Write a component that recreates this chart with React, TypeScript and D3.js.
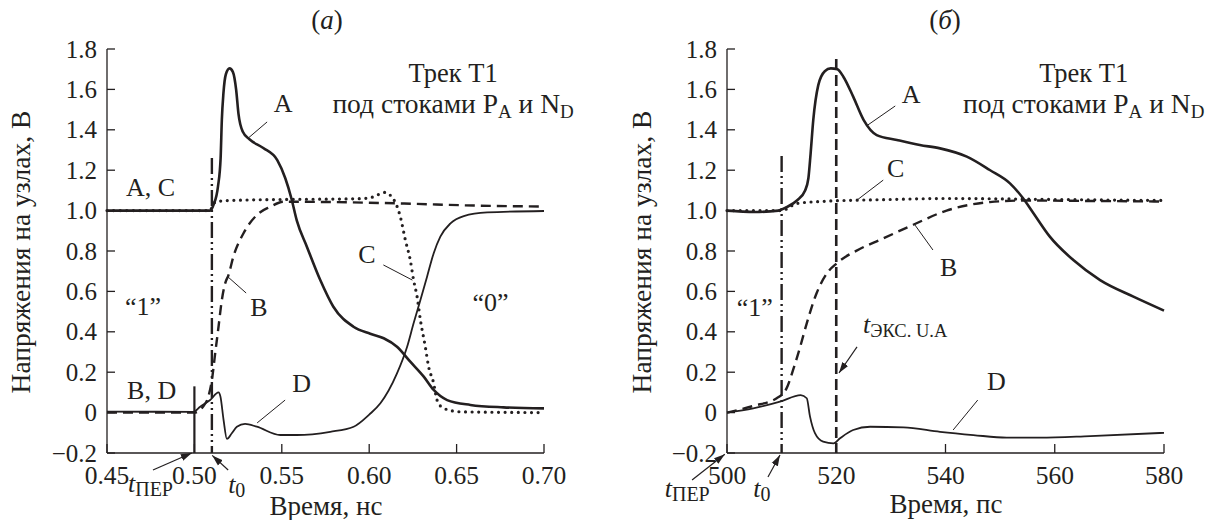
import React from 'react';
import * as d3 from 'd3';

type Pt = [number, number];

const INK = '#231f20';
const TXT = { fontFamily: 'Liberation Serif', fill: INK } as const;

// axis ticks
const yTicks = [-0.2, 0, 0.2, 0.4, 0.6, 0.8, 1.0, 1.2, 1.4, 1.6, 1.8];
const xTicksA = [0.45, 0.5, 0.55, 0.6, 0.65, 0.7];
const xTicksB = [500, 520, 540, 560, 580];

// panel (a), time in ns
const aNodeA: Pt[] = [
  [0.45, 1.0], [0.505, 1.0], [0.509, 1.0], [0.511, 1.03], [0.5135, 1.12], [0.515, 1.26],
  [0.5157, 1.45], [0.5166, 1.58], [0.518, 1.675], [0.5201, 1.704], [0.522, 1.687],
  [0.5239, 1.597], [0.5252, 1.48], [0.5277, 1.39], [0.5315, 1.353], [0.5394, 1.31],
  [0.5474, 1.25], [0.552, 1.16], [0.5555, 1.06], [0.5586, 0.95], [0.5644, 0.82],
  [0.572, 0.656], [0.5795, 0.524], [0.591, 0.425], [0.6006, 0.39], [0.6083, 0.368],
  [0.6159, 0.326], [0.6235, 0.252], [0.6312, 0.178], [0.6369, 0.112], [0.6446, 0.062],
  [0.6579, 0.038], [0.6768, 0.026], [0.70, 0.021],
];
const aNodeB: Pt[] = [
  [0.45, 0.0], [0.50, 0.0], [0.505, 0.03], [0.508, 0.08], [0.51, 0.161], [0.5119, 0.294],
  [0.5138, 0.425], [0.5157, 0.557], [0.5176, 0.64], [0.5195, 0.681], [0.5223, 0.772],
  [0.5281, 0.888], [0.5357, 0.978], [0.5434, 1.019], [0.551, 1.044], [0.58, 1.042],
  [0.62, 1.035], [0.66, 1.025], [0.70, 1.02],
];
const aNodeC: Pt[] = [
  [0.45, 1.0], [0.509, 1.0], [0.5105, 1.03], [0.513, 1.045], [0.52, 1.05], [0.55, 1.055],
  [0.59, 1.058], [0.60, 1.062], [0.604, 1.075], [0.609, 1.09], [0.6125, 1.072],
  [0.6155, 1.03], [0.6178, 0.97], [0.6207, 0.854], [0.6235, 0.755], [0.6254, 0.656],
  [0.6274, 0.574], [0.6293, 0.458], [0.6321, 0.326], [0.634, 0.227], [0.6369, 0.145],
  [0.6388, 0.062], [0.6426, 0.021], [0.6522, 0.004], [0.70, 0.0],
];
const aNodeD: Pt[] = [
  [0.45, 0.005], [0.4994, 0.004], [0.5033, 0.029], [0.509, 0.062], [0.5138, 0.1],
  [0.5149, 0.079], [0.5167, -0.037], [0.5186, -0.13], [0.5214, -0.102], [0.5243, -0.07],
  [0.529, -0.056], [0.5357, -0.07], [0.5491, -0.111], [0.5586, -0.111], [0.5777, -0.095],
  [0.5911, -0.07], [0.600, -0.01], [0.6064, 0.046], [0.6159, 0.194], [0.6217, 0.326],
  [0.6254, 0.442], [0.6293, 0.557], [0.6331, 0.673], [0.6369, 0.789], [0.6407, 0.871],
  [0.6465, 0.937], [0.6541, 0.973], [0.6675, 0.991], [0.70, 0.998],
];

// panel (б), time in ps
const bNodeA: Pt[] = [
  [500, 1.0], [505, 0.993], [509.4, 1.0], [510.9, 1.017], [512.8, 1.05], [514.3, 1.1],
  [514.9, 1.16], [515.3, 1.28], [515.8, 1.45], [516.7, 1.62], [517.9, 1.69], [519.0, 1.704],
  [520.2, 1.7], [521.3, 1.663], [523.1, 1.564], [525.0, 1.449], [527.4, 1.374],
  [531.1, 1.35], [535.3, 1.325], [539, 1.308], [543.9, 1.267], [548.1, 1.201],
  [551.8, 1.135], [554.2, 1.061], [556.1, 0.987], [559.1, 0.871], [563.4, 0.755],
  [568.3, 0.656], [574.4, 0.574], [580, 0.505],
];
const bNodeB: Pt[] = [
  [500, 0.0], [504.8, 0.033], [509.1, 0.071], [510.9, 0.12], [512.1, 0.211], [513.4, 0.326],
  [514.6, 0.442], [516.4, 0.591], [518.3, 0.69], [520.1, 0.739], [524.3, 0.81],
  [528, 0.855], [534.1, 0.93], [540.2, 1.0], [548.1, 1.042], [555, 1.05], [565, 1.048],
  [580, 1.045],
];
const bNodeC: Pt[] = [
  [500, 1.0], [510, 1.0], [512.8, 1.035], [517, 1.045], [530, 1.055], [540, 1.06],
  [560, 1.055], [580, 1.05],
];
const bNodeD: Pt[] = [
  [500, 0.0], [504.8, 0.021], [509.7, 0.054], [513.5, 0.087], [514.6, 0.071],
  [515.2, -0.02], [516.1, -0.102], [517.6, -0.144], [519.5, -0.152], [520.7, -0.127],
  [523.1, -0.086], [526.2, -0.07], [532.3, -0.073], [539, -0.095], [545.1, -0.111],
  [551.2, -0.124], [557.3, -0.124], [566.5, -0.116], [580, -0.1],
];

// vertical markers: [time, top value]
const aTPer: Pt = [0.50, 0.13];
const aT0: Pt = [0.51, 1.26];
const bT0: Pt = [510, 1.27];
const bTExc: Pt = [520, 1.75];

const Y_DOMAIN: Pt = [-0.2, 1.8];
const PLOT_TOP = 49;
const PLOT_BOTTOM = 453;

const styles: Record<string, any> = {
  A: { strokeWidth: 2.6 },
  B: { strokeWidth: 2.4, strokeDasharray: '10,6' },
  C: { strokeWidth: 3.2, strokeDasharray: '0,6.6', strokeLinecap: 'round' },
  D: { strokeWidth: 1.8 },
};

function yLabel(v: number) {
  if (Math.abs(v) < 1e-9) return '0';
  return v < 0 ? '\u2212' + Math.abs(v).toFixed(1) : v.toFixed(1);
}

function T(props: any) {
  const { style, children, ...rest } = props;
  return <text fontSize={26} {...rest} style={{ ...TXT, ...style }}>{children}</text>;
}

function Panel(props: any) {
  const { xDomain, xRange, xTicks, xFmt, series, children } = props;
  const x = d3.scaleLinear().domain(xDomain).range(xRange);
  const y = d3.scaleLinear().domain(Y_DOMAIN).range([PLOT_BOTTOM, PLOT_TOP]);
  const line = d3.line<Pt>().x(d => x(d[0])).y(d => y(d[1])).curve(d3.curveMonotoneX);
  const x0 = xRange[0];
  const x1 = xRange[1];
  const yb = y(Y_DOMAIN[0]);

  return (
    <g>
      {/* axes */}
      <line x1={x0} x2={x0} y1={y(1.8)} y2={yb} stroke={INK} strokeWidth={1.3} />
      <line x1={x0} x2={x1} y1={yb} y2={yb} stroke={INK} strokeWidth={1.3} />
      {yTicks.map(t => (
        <g key={'y' + t}>
          <line x1={x0} x2={x0 + 8} y1={y(t)} y2={y(t)} stroke={INK} strokeWidth={1.3} />
          <T x={x0 - 10} y={y(t)} dy="0.34em" textAnchor="end" fontSize={25}>{yLabel(t)}</T>
        </g>
      ))}
      {xTicks.map((t: number) => (
        <g key={'x' + t}>
          <line x1={x(t)} x2={x(t)} y1={yb} y2={yb - 9} stroke={INK} strokeWidth={1.3} />
          <T x={x(t)} y={yb + 31} textAnchor="middle" fontSize={25.5}>{xFmt(t)}</T>
        </g>
      ))}
      {/* curves */}
      {series.map((s: any) => (
        <path key={s.name} d={line(s.data) || ''} fill="none" stroke={INK}
          strokeLinejoin="round" {...styles[s.name]} />
      ))}
      {children(x, y)}
    </g>
  );
}

function Leader({ x, y, p }: any) {
  return <line x1={x(p[0])} y1={y(p[1])} x2={x(p[2])} y2={y(p[3])} stroke={INK} strokeWidth={1} />;
}

function Arrow({ x, y, p }: any) {
  return <line x1={x(p[0])} y1={y(p[1])} x2={x(p[2])} y2={y(p[3])} stroke={INK}
    strokeWidth={1.2} markerEnd="url(#arrowHead)" />;
}

function Title({ cx, cy }: any) {
  return (
    <g>
      <T x={cx} y={cy} textAnchor="middle" fontSize={26.5}>Трек T1</T>
      <T x={cx} y={cy + 31} textAnchor="middle" fontSize={27.5}>
        под стоками P<tspan dy={5} fontSize={19}>A</tspan>
        <tspan dy={-5}> и N</tspan><tspan dy={5} fontSize={19}>D</tspan>
      </T>
    </g>
  );
}

function Sub({ x, y, main, sub, size }: any) {
  return (
    <T x={x} y={y}>
      <tspan fontStyle="italic">{main}</tspan><tspan dy={4} fontSize={size}>{sub}</tspan>
    </T>
  );
}

export default function App() {
  return (
    <div style={{ position: 'absolute', left: 0, top: 0 }}>
      <svg width={1217} height={520} style={{ display: 'block', background: '#fff' }}>
        <defs>
          <marker id="arrowHead" viewBox="0 0 10 10" refX={10} refY={5} markerWidth={11}
            markerHeight={11} markerUnits="userSpaceOnUse" orient="auto">
            <path d="M0,1.8 L10,5 L0,8.2 z" fill={INK} />
          </marker>
        </defs>

        {/* panel titles */}
        <T x={327} y={29} textAnchor="middle" fontSize={27}>(<tspan fontStyle="italic">а</tspan>)</T>
        <T x={945} y={29} textAnchor="middle" fontSize={27}>(<tspan fontStyle="italic">б</tspan>)</T>

        {/* y axis titles */}
        <T transform="translate(30,252) rotate(-90)" textAnchor="middle" fontSize={27.5}>
          Напряжения на узлах, В
        </T>
        <T transform="translate(651,252) rotate(-90)" textAnchor="middle" fontSize={27.5}>
          Напряжения на узлах, В
        </T>

        {/* x axis titles */}
        <T x={326} y={515} textAnchor="middle" fontSize={27}>Время, нс</T>
        <T x={946} y={513} textAnchor="middle" fontSize={27}>Время, пс</T>

        <Panel xDomain={[0.45, 0.70]} xRange={[107, 544]} xTicks={xTicksA}
          xFmt={(t: number) => t.toFixed(2)}
          series={[{ name: 'D', data: aNodeD }, { name: 'B', data: aNodeB },
            { name: 'A', data: aNodeA }, { name: 'C', data: aNodeC }]}>
          {(x: any, y: any) => (
            <g>
              <line x1={x(aTPer[0])} x2={x(aTPer[0])} y1={y(aTPer[1])} y2={y(-0.2)}
                stroke={INK} strokeWidth={2.2} />
              <line x1={x(aT0[0])} x2={x(aT0[0])} y1={y(aT0[1])} y2={y(-0.2)}
                stroke={INK} strokeWidth={2.4} strokeDasharray="16,4,2,4,2,4" />
              <Title cx={x(0.648)} cy={y(1.637)} />
              <T x={x(0.5508)} y={y(1.488)} textAnchor="middle">A</T>
              <Leader x={x} y={y} p={[0.5416, 1.439, 0.5308, 1.359]} />
              <T x={x(0.4609)} y={y(1.072)}>A, C</T>
              <T x={x(0.4615)} y={y(0.067)}>B, D</T>
              <T x={x(0.4603)} y={y(0.483)}>“1”</T>
              <T x={x(0.6591)} y={y(0.503)}>“0”</T>
              <T x={x(0.5319)} y={y(0.478)}>B</T>
              <Leader x={x} y={y} p={[0.5296, 0.592, 0.5193, 0.671]} />
              <T x={x(0.556)} y={y(0.102)}>D</T>
              <Leader x={x} y={y} p={[0.5519, 0.062, 0.5359, -0.051]} />
              <T x={x(0.5938)} y={y(0.741)}>C</T>
              <Leader x={x} y={y} p={[0.6081, 0.731, 0.6247, 0.656]} />
              <Sub x={x(0.462)} y={y(-0.393)} main="t" sub="ПЕР" size={20} />
              <Arrow x={x} y={y} p={[0.4763, -0.284, 0.4985, -0.2]} />
              <Sub x={x(0.5193)} y={y(-0.398)} main="t" sub="0" size={20} />
              <Arrow x={x} y={y} p={[0.5193, -0.284, 0.5102, -0.212]} />
            </g>
          )}
        </Panel>

        <Panel xDomain={[500, 580]} xRange={[727, 1164]} xTicks={xTicksB}
          xFmt={(t: number) => String(t)}
          series={[{ name: 'D', data: bNodeD }, { name: 'B', data: bNodeB },
            { name: 'A', data: bNodeA }, { name: 'C', data: bNodeC }]}>
          {(x: any, y: any) => (
            <g>
              <line x1={x(bT0[0])} x2={x(bT0[0])} y1={y(bT0[1])} y2={y(-0.2)}
                stroke={INK} strokeWidth={2.4} strokeDasharray="16,4,2,4,2,4" />
              <line x1={x(bTExc[0])} x2={x(bTExc[0])} y1={y(bTExc[1])} y2={y(-0.2)}
                stroke={INK} strokeWidth={2.6} strokeDasharray="11,5" />
              <Title cx={x(565.3)} cy={y(1.637)} />
              <T x={x(532.0)} y={y(1.533)}>A</T>
              <Leader x={x} y={y} p={[530.8, 1.518, 525.8, 1.424]} />
              <T x={x(529.3)} y={y(1.166)}>C</T>
              <Leader x={x} y={y} p={[528.6, 1.151, 523.8, 1.052]} />
              <T x={x(539.0)} y={y(0.676)}>B</T>
              <Leader x={x} y={y} p={[537.7, 0.805, 534.4, 0.929]} />
              <T x={x(547.6)} y={y(0.112)}>D</T>
              <Leader x={x} y={y} p={[545.9, 0.062, 541.4, -0.086]} />
              <T x={x(501.8)} y={y(0.478)}>“1”</T>
              <Sub x={x(524.9)} y={y(0.394)} main="t" sub="ЭКС. U.A" size={18.5} />
              <Arrow x={x} y={y} p={[523.8, 0.325, 520.5, 0.196]} />
              <Sub x={x(488.6)} y={y(-0.418)} main="t" sub="ПЕР" size={20} />
              <Arrow x={x} y={y} p={[493.6, -0.334, 499.6, -0.206]} />
              <Sub x={x(504.8)} y={y(-0.418)} main="t" sub="0" size={20} />
              <Arrow x={x} y={y} p={[507.5, -0.319, 509.7, -0.21]} />
            </g>
          )}
        </Panel>
      </svg>
    </div>
  );
}
